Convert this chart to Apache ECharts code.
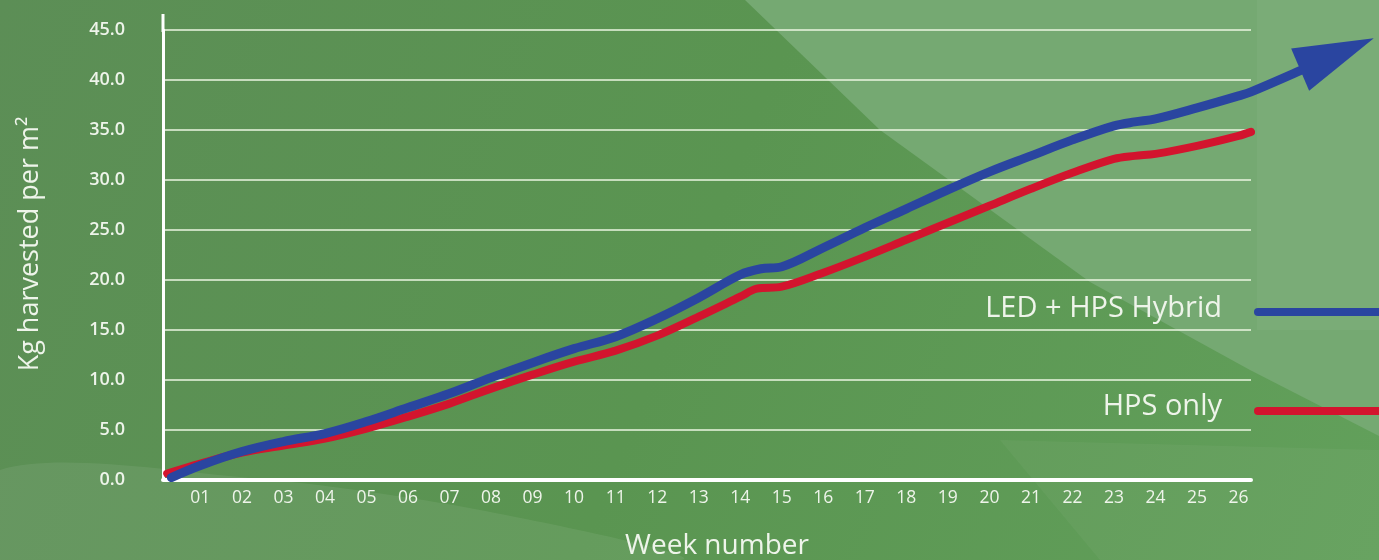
<!DOCTYPE html>
<html>
<head>
<meta charset="utf-8">
<script src="https://cdn.jsdelivr.net/npm/echarts@6/dist/echarts.min.js"></script>
<style>
  html, body { margin: 0; padding: 0; }
  #chart { width: 1379px; height: 560px; }
</style>
</head>
<body>
<div id="chart"></div>
<script>
// ---- data ----
const weekTicks = [1,2,3,4,5,6,7,8,9,10,11,12,13,14,15,16,17,18,19,20,21,22,23,24,25,26];
const yTicks = [0,5,10,15,20,25,30,35,40,45];

const hybridName = 'LED + HPS Hybrid';
const hybridWeeks  = [0.3, 1, 2, 3, 4, 5, 6, 7, 8, 9, 10, 11, 12, 13, 14, 14.5, 15, 16, 17, 18, 19, 20, 21, 22, 23, 23.5, 24, 25, 26, 26.3, 27.47, 28.37];
const hybridValues = [0.2, 1.4, 2.8, 3.8, 4.6, 5.8, 7.2, 8.6, 10.2, 11.7, 13.1, 14.3, 16.1, 18.2, 20.5, 21.1, 21.3, 23.2, 25.2, 27.1, 29.0, 30.8, 32.4, 34.0, 35.4, 35.8, 36.1, 37.2, 38.4, 38.8, 40.9, 42.6];

const hpsName = 'HPS only';
const hpsWeeks  = [0.2, 1, 2, 3, 4, 5, 6, 7, 8, 9, 10, 11, 12, 13, 14, 14.4, 15, 16, 17, 18, 19, 20, 21, 22, 23, 23.5, 24, 25, 26, 26.3];
const hpsValues = [0.6, 1.6, 2.7, 3.4, 4.1, 5.1, 6.3, 7.6, 9.1, 10.5, 11.8, 12.9, 14.4, 16.3, 18.3, 19.1, 19.3, 20.7, 22.3, 24.0, 25.7, 27.4, 29.1, 30.7, 32.1, 32.4, 32.6, 33.4, 34.4, 34.8];

const blue = '#2a45a0';
const red = '#d3142e';
const textColor = '#eef4ea';

function pairs(xs, ys) { return xs.map((x, i) => [x, ys[i]]); }

const hybridData = pairs(hybridWeeks, hybridValues).map((p, i, arr) =>
  i === arr.length - 1
    ? { value: p, symbol: 'triangle', symbolSize: [46, 80], symbolRotate: -67, itemStyle: { color: blue } }
    : { value: p });

// plot geometry (pixels)
const plotLeft = 163, plotRight = 1251, W = 1379;
const xMin = 0.1, xMax = 26.3;
const pxPerWeek = (plotRight - plotLeft) / (xMax - xMin);
const xMaxWide = xMin + (W - plotLeft) / pxPerWeek; // same scale, extended to the right edge

const chart = echarts.init(document.getElementById('chart'), null, { renderer: 'canvas' });

const option = {
  animation: false,
  backgroundColor: '#5e9357',
  graphic: [
    // background shapes
    { type: 'rect', z: -10, silent: true, shape: { x: 0, y: 0, width: 1379, height: 560 },
      style: { fill: new echarts.graphic.LinearGradient(0, 0, 1, 1, [
        { offset: 0, color: '#5c8e56' }, { offset: 0.5, color: '#5a9551' }, { offset: 1, color: '#62a05b' }]) } },
    { type: 'polygon', z: -9, silent: true,
      shape: { points: [[0,470],[250,478],[480,510],[680,560],[0,560]], smooth: 0.3 },
      style: { fill: 'rgba(255,255,255,0.07)' } },
    { type: 'polygon', z: -8, silent: true,
      shape: { points: [[745,0],[880,130],[1090,282],[1250,370],[1379,436],[1379,0]] },
      style: { fill: '#75a972' } },
    { type: 'rect', z: -7, silent: true, shape: { x: 1257, y: 0, width: 122, height: 330 },
      style: { fill: 'rgba(255,255,255,0.04)' } },
    { type: 'polygon', z: -7, silent: true,
      shape: { points: [[1000,440],[1379,450],[1379,560],[1100,560]] },
      style: { fill: 'rgba(255,255,255,0.04)' } },
    // y axis line extension above the top gridline
    { type: 'line', z: 5, silent: true, shape: { x1: 163, y1: 14, x2: 163, y2: 32 },
      style: { stroke: '#ffffff', lineWidth: 3 } },
    // legend
    { type: 'text', z: 5, silent: true, style: { text: hybridName, x: 1222, y: 309, align: 'right', verticalAlign: 'middle',
      fill: textColor, font: '29px "Open Sans"' } },
    { type: 'line', z: 5, silent: true, shape: { x1: 1258, y1: 312, x2: 1390, y2: 312 },
      style: { stroke: blue, lineWidth: 8, lineCap: 'round' } },
    { type: 'text', z: 5, silent: true, style: { text: hpsName, x: 1222, y: 407, align: 'right', verticalAlign: 'middle',
      fill: textColor, font: '29px "Open Sans"' } },
    { type: 'line', z: 5, silent: true, shape: { x1: 1258, y1: 411, x2: 1390, y2: 411 },
      style: { stroke: red, lineWidth: 8, lineCap: 'round' } },
    // axis titles
    { type: 'text', z: 5, silent: true, style: { text: 'Week number', x: 717, y: 546, align: 'center', verticalAlign: 'middle',
      fill: textColor, font: '28px "Open Sans"' } },
    { type: 'text', z: 5, silent: true, rotation: Math.PI / 2, x: 30, y: 244,
      style: { text: 'Kg harvested per m²', x: 0, y: 0, align: 'center', verticalAlign: 'middle',
      fill: textColor, font: '27px "Open Sans"' } }
  ],
  grid: [
    { left: plotLeft, right: W - plotRight, top: 30, bottom: 80.5, containLabel: false },
    { left: plotLeft, right: 0, top: 30, bottom: 80.5, containLabel: false }
  ],
  xAxis: [{
    type: 'value', min: xMin, max: xMax, gridIndex: 0,
    axisLine: { show: true, lineStyle: { color: '#ffffff', width: 4 } },
    axisTick: { show: false },
    splitLine: { show: false },
    axisLabel: {
      customValues: weekTicks,
      formatter: v => String(v).padStart(2, '0'),
      color: textColor, fontFamily: 'Open Sans', fontSize: 17.5, margin: 10
    }
  }, {
    type: 'value', min: xMin, max: xMaxWide, gridIndex: 1, show: false
  }],
  yAxis: [{
    type: 'value', min: 0, max: 45, interval: 5, gridIndex: 0,
    axisLine: { show: true, lineStyle: { color: '#ffffff', width: 3 } },
    axisTick: { show: false },
    splitLine: { show: true, lineStyle: { color: 'rgba(235,245,225,0.75)', width: 2 } },
    axisLabel: {
      formatter: v => v.toFixed(1),
      color: textColor, fontFamily: 'Open Sans', fontWeight: 600, fontSize: 18, margin: 38,
      align: 'right'
    }
  }, {
    type: 'value', min: 0, max: 45, interval: 5, gridIndex: 1, show: false
  }],
  series: [
    {
      name: hpsName, type: 'line', smooth: 0.35, symbol: 'none', clip: false,
      xAxisIndex: 0, yAxisIndex: 0,
      data: pairs(hpsWeeks, hpsValues),
      lineStyle: { color: red, width: 8, cap: 'round', join: 'round' },
      z: 3
    },
    {
      name: hybridName, type: 'line', smooth: 0.35, symbol: 'none', showSymbol: true, showAllSymbol: true, clip: false,
      xAxisIndex: 1, yAxisIndex: 1,
      data: hybridData,
      lineStyle: { color: blue, width: 9, cap: 'round', join: 'round' },
      itemStyle: { color: blue },
      z: 4
    }
  ]
};
chart.setOption(option);
</script>
</body>
</html>
